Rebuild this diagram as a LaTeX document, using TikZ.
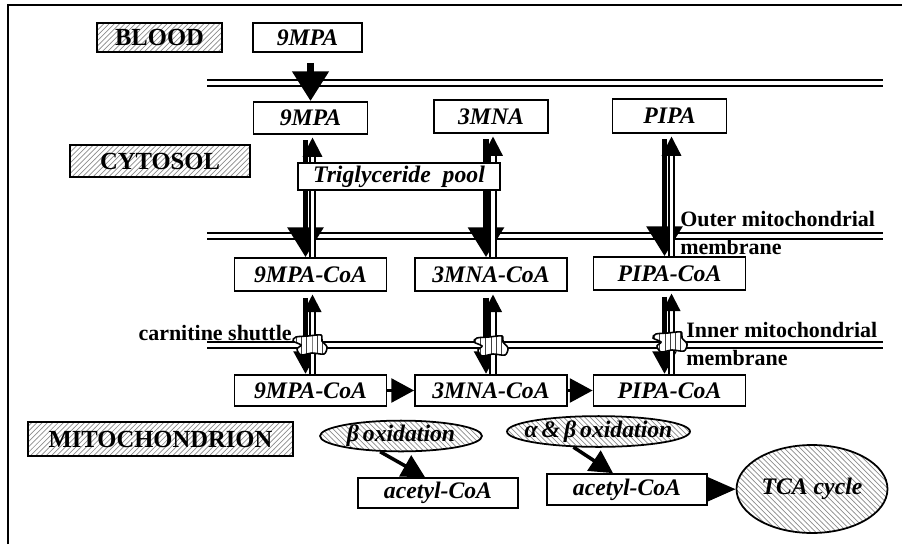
\documentclass[tikz,border=0pt]{standalone}
\usepackage{fontspec}
\setmainfont{Liberation Serif}
\usetikzlibrary{arrows.meta,patterns,shapes.geometric,calc}

\tikzset{
  box/.style={draw, line width=1pt, fill=white, inner sep=0pt,
    font=\fontsize{13.5}{15}\selectfont\bfseries\itshape},
  region/.style={draw, line width=1pt, pattern=north east lines, pattern color=black!45,
    inner sep=0pt, font=\fontsize{14}{16}\selectfont\bfseries},
  proc/.style={ellipse, draw, line width=1pt, pattern=north west lines, pattern color=black!45,
    inner sep=0pt, font=\fontsize{13.5}{15}\selectfont\bfseries\itshape},
  lbl/.style={inner sep=0pt, font=\fontsize{12.5}{16}\selectfont\bfseries},
  membrane/.style={line width=1.3pt, double=white, double distance=2pt},
  bigdown/.style={line width=3.4pt, -{Triangle[length=17pt,width=20pt]}},
  smalldown/.style={line width=3.4pt, -{Triangle[length=13pt,width=13pt]}},
  bigup/.style={line width=1.3pt, double=white, double distance=1.8pt,
    -{Triangle[length=11pt,width=11pt]}},
  smallup/.style={line width=1.3pt, double=white, double distance=1.8pt,
    -{Triangle[length=10pt,width=10pt]}},
  flow/.style={line width=2pt, -{Triangle[length=13pt,width=13.5pt]}},
  shuttle/.style={draw, line width=0.9pt, preaction={fill=white},
    pattern=vertical lines, pattern color=black!75}
}

\begin{document}
\begin{tikzpicture}[x=0.02cm, y=-0.02cm]
\useasboundingbox (0,0) rectangle (902,544);
\draw[line width=1.7pt] (8,544) -- (8,5) -- (902,5);

% membranes
\draw[membrane] (207,83) -- (883,83);
\draw[membrane] (207,236) -- (883,236);
\draw[membrane] (207,345) -- (883,345);

% compartments
\node[region, minimum width=2.5cm, minimum height=0.58cm] (blood) at (159.5,37.5) {BLOOD};
\node[region, minimum width=3.6cm, minimum height=0.64cm] (cyto) at (160,161) {CYTOSOL};
\node[region, minimum width=5.3cm, minimum height=0.68cm] (mito) at (160.5,439) {MITOCHONDRION};

\node[box, minimum width=2.18cm, minimum height=0.58cm] (b9) at (307.5,37.5) {9MPA};

\node[box, minimum width=2.28cm, minimum height=0.64cm] (c9) at (310.5,118) {9MPA};
\node[box, minimum width=2.28cm, minimum height=0.66cm] (c3) at (491,116.5) {3MNA};
\node[box, minimum width=2.28cm, minimum height=0.68cm] (cP) at (669.5,116) {PIPA};

\node[box, minimum width=3.04cm, minimum height=0.66cm] (m9) at (310.5,274.5) {9MPA-CoA};
\node[box, minimum width=3.04cm, minimum height=0.66cm] (m3) at (491,274.5) {3MNA-CoA};
\node[box, minimum width=3.04cm, minimum height=0.66cm] (mP) at (669.5,273.5) {PIPA-CoA};

\node[box, minimum width=3.04cm, minimum height=0.62cm] (i9) at (310.5,390.5) {9MPA-CoA};
\node[box, minimum width=3.04cm, minimum height=0.62cm] (i3) at (491,390.5) {3MNA-CoA};
\node[box, minimum width=3.04cm, minimum height=0.62cm] (iP) at (669.5,390.5) {PIPA-CoA};

% transport
\draw[bigdown, line width=4.5pt, shorten <=5.7pt] (b9.south -| c9.north) -- (c9.north);

\draw[bigdown, shorten <=3pt] ($(c9.south)+(-5,0)$) -- ($(m9.north)+(-5,0)$);
\draw[bigdown, shorten <=3pt] ($(c3.south)+(-5,0)$) -- ($(m3.north)+(-5,0)$);
\draw[bigdown, shorten <=3pt] ($(cP.south)+(-5,0)$) -- ($(mP.north)+(-5,0)$);
\draw[bigup, shorten >=1.5pt] ($(m9.north)+(2,0)$) -- ($(c9.south)+(2,0)$);
\draw[bigup, shorten >=1.5pt] ($(m3.north)+(2,0)$) -- ($(c3.south)+(2,0)$);
\draw[bigup, shorten >=1.5pt] ($(mP.north)+(2,0)$) -- ($(cP.south)+(2,0)$);

\node[box, minimum width=4.04cm, minimum height=0.54cm] (tg) at (399,176.5) {Triglyceride\enspace pool};

\draw[smalldown, shorten <=3.4pt] ($(m9.south)+(-5,0)$) -- ($(i9.north)+(-5,0)$);
\draw[smalldown, shorten <=3.4pt] ($(m3.south)+(-5,0)$) -- ($(i3.north)+(-5,0)$);
\draw[smalldown, shorten <=3.4pt] ($(mP.south)+(-5,0)$) -- ($(iP.north)+(-5,0)$);
\draw[smallup, shorten >=1.5pt] ($(i9.north)+(2,0)$) -- ($(m9.south)+(2,0)$);
\draw[smallup, shorten >=1.5pt] ($(i3.north)+(2,0)$) -- ($(m3.south)+(2,0)$);
\draw[smallup, shorten >=1.5pt] ($(iP.north)+(2,0)$) -- ($(mP.south)+(2,0)$);

% carnitine shuttles
\begin{scope}[shift={(310,345)}]
\draw[shuttle] plot[smooth cycle] coordinates {(-14,-8) (-2,-9) (11,-10) (12,-4) (17,2) (14,9) (2,8) (-9,10) (-13,4) (-9,0) (-17,-4)};
\end{scope}
\begin{scope}[shift={(491,346)}]
\draw[shuttle] plot[smooth cycle] coordinates {(-14,-8) (-2,-9) (11,-10) (12,-4) (17,2) (14,9) (2,8) (-9,10) (-13,4) (-9,0) (-17,-4)};
\end{scope}
\begin{scope}[shift={(670,342)}]
\draw[shuttle] plot[smooth cycle] coordinates {(-14,-8) (-2,-9) (11,-10) (12,-4) (17,2) (14,9) (2,8) (-9,10) (-13,4) (-9,0) (-17,-4)};
\end{scope}

\node[lbl, anchor=east] (shut) at (292,333) {carnitine shuttle};
\node[lbl, anchor=west, align=left] (outer) at (680,233) {Outer mitochondrial\\membrane};
\node[lbl, anchor=west, align=left] (inner) at (686,344) {Inner mitochondrial\\membrane};

% oxidation
\draw[flow] (i9) -- (i3);
\draw[flow] (i3) -- (iP);

\node[proc, minimum width=3.24cm, minimum height=0.56cm] (ox1) at (401,436) {\makebox[0pt]{β\,oxidation}};
\node[proc, minimum width=3.66cm, minimum height=0.54cm] (ox2) at (598.5,431.5) {\makebox[0pt]{α\,\&\,β\,oxidation}};
\node[box, minimum width=3.2cm, minimum height=0.6cm] (ac1) at (438,493) {acetyl-CoA};
\node[box, minimum width=3.2cm, minimum height=0.62cm] (ac2) at (627,489.5) {acetyl-CoA};
\node[proc, minimum width=3.02cm, minimum height=1.76cm] (tca) at (812,489) {TCA cycle};

\draw[flow] (ox1.-143) -- ($(ac1.north)+(-13,0)$);
\draw[flow] (ox2.-148) -- ($(ac2.north)+(-14,0)$);
\draw[flow, -{Triangle[length=16pt,width=13.5pt]}] (ac2) -- (tca);
\end{tikzpicture}
\end{document}
